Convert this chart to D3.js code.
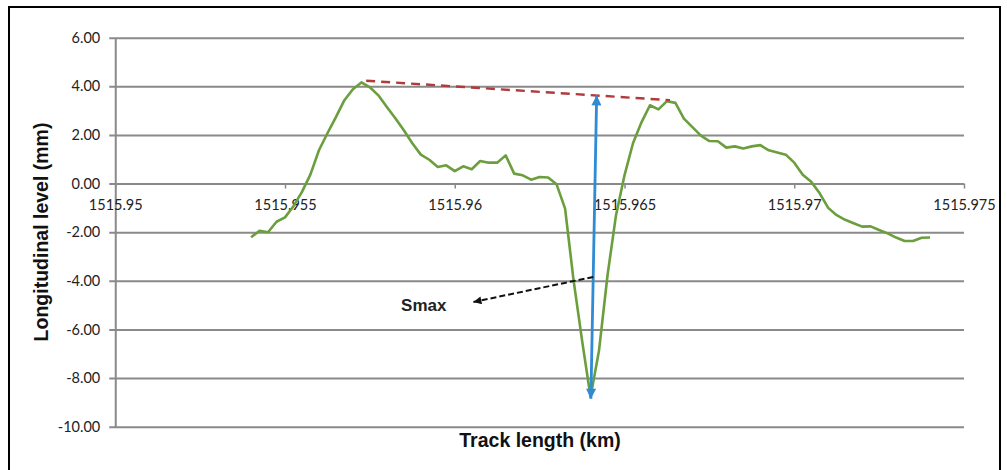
<!DOCTYPE html>
<html>
<head>
<meta charset="utf-8">
<script src="https://cdn.jsdelivr.net/npm/d3@7"></script>
<style>
  html, body { margin: 0; padding: 0; background: #fff; }
  svg { display: block; }
</style>
</head>
<body>
<svg id="chart" width="1007" height="470"></svg>
<script>
// Track chainage (km), sampled every 0.25 m
const xStart = 1515.954;
const xStep = 0.00025;

// Longitudinal level (mm) at each chainage sample
const levels = [
  -2.21, -1.94, -2.00, -1.57, -1.39, -0.93, -0.34, 0.38, 1.37, 2.07,
   2.73,  3.43,  3.88,  4.16,  3.96,  3.63,  3.15, 2.69, 2.19, 1.66,
   1.19,  0.98,  0.68,  0.75,  0.51,  0.71,  0.59, 0.93, 0.86, 0.86,
   1.16,  0.41,  0.34,  0.16,  0.27,  0.25, -0.03, -1.03, -3.98, -6.45,
  -8.78, -6.86, -3.77, -1.30,  0.34,  1.66,  2.52, 3.22, 3.05, 3.39,
   3.32,  2.67,  2.32,  1.97,  1.75,  1.74,  1.48, 1.53, 1.44, 1.53,
   1.58,  1.37,  1.28,  1.19,  0.86,  0.36,  0.07, -0.40, -1.00, -1.30,
  -1.49, -1.63, -1.77, -1.76, -1.91, -2.05, -2.22, -2.36, -2.36, -2.23,
  -2.22
];
const chainage = levels.map((_, i) => xStart + i * xStep);

// Axis ticks
const xTicks = [1515.95, 1515.955, 1515.96, 1515.965, 1515.97, 1515.975];
const xTickLabels = ["1515.95", "1515.955", "1515.96", "1515.965", "1515.97", "1515.975"];
const yTicks = [-10, -8, -6, -4, -2, 0, 2, 4, 6];

// Annotations: envelope over the two crests, the Smax span and its pointer
const envelopeLine = [[1515.95739, 4.23], [1515.96634, 3.43]];
const smaxSpan = [[1515.96418, 3.63], [1515.96401, -8.85]];
const smaxPointer = [[1515.96408, -3.84], [1515.96055, -4.87]];
const smaxLabel = { x: 1515.96055, y: -4.87, text: "Smax" };

const svg = d3.select("#chart");

// Outer frame
svg.append("rect")
  .attr("x", 9).attr("y", 7)
  .attr("width", 991).attr("height", 470)
  .attr("fill", "none").attr("stroke", "#000").attr("stroke-width", 2);

const x = d3.scaleLinear().domain([1515.95, 1515.975]).range([115.25, 964]);
const y = d3.scaleLinear().domain([-10, 6]).range([426.7, 37.7]);

const gridColor = "#8a8a8a";

// Y axis with horizontal gridlines (plain hyphen for negatives)
const yAxis = d3.axisLeft(y)
  .tickValues(yTicks)
  .tickFormat(d => d.toFixed(2))
  .tickSizeInner(6)
  .tickSizeOuter(0)
  .tickPadding(9);

const gy = svg.append("g")
  .attr("transform", `translate(${x.range()[0]},0)`)
  .call(yAxis);
gy.select(".domain").attr("stroke", gridColor).attr("stroke-width", 2);
gy.selectAll(".tick line")
  .attr("x1", -6)
  .attr("x2", x.range()[1] - x.range()[0])
  .attr("stroke", gridColor)
  .attr("stroke-width", 2);
gy.selectAll(".tick text")
  .attr("font-family", "Lato, 'Open Sans', sans-serif")
  .attr("font-size", 14.5)
  .attr("fill", "#222");

// X axis along the zero line
const xAxis = d3.axisBottom(x)
  .tickValues(xTicks)
  .tickFormat((d, i) => xTickLabels[i])
  .tickSizeInner(5)
  .tickSizeOuter(0);

const gx = svg.append("g")
  .attr("transform", `translate(0,${y(0)})`)
  .call(xAxis);
gx.select(".domain").attr("stroke", "none");
gx.selectAll(".tick line").attr("stroke", gridColor).attr("stroke-width", 1.5);
gx.selectAll(".tick text")
  .attr("y", 26).attr("dy", 0)
  .attr("font-family", "Lato, 'Open Sans', sans-serif")
  .attr("font-size", 14.5)
  .attr("fill", "#222");

// Axis titles
svg.append("text")
  .attr("transform", "translate(48,232) rotate(-90)")
  .attr("text-anchor", "middle")
  .attr("font-family", "'Liberation Sans', Arial, sans-serif")
  .attr("font-weight", "bold")
  .attr("font-size", 19.5)
  .attr("fill", "#111")
  .text("Longitudinal level (mm)");

svg.append("text")
  .attr("x", 540).attr("y", 447)
  .attr("text-anchor", "middle")
  .attr("font-family", "'Liberation Sans', Arial, sans-serif")
  .attr("font-weight", "bold")
  .attr("font-size", 19.5)
  .attr("fill", "#111")
  .text("Track length (km)");

// Arrowhead markers
const defs = svg.append("defs");
defs.append("marker")
  .attr("id", "blueHead")
  .attr("viewBox", "0 0 10 10")
  .attr("refX", 10).attr("refY", 5)
  .attr("markerUnits", "userSpaceOnUse")
  .attr("markerWidth", 11).attr("markerHeight", 10)
  .attr("orient", "auto-start-reverse")
  .append("path").attr("d", "M0,0 L10,5 L0,10 Z").attr("fill", "#2f8bd2");
defs.append("marker")
  .attr("id", "blackHead")
  .attr("viewBox", "0 0 10 10")
  .attr("refX", 10).attr("refY", 5)
  .attr("markerUnits", "userSpaceOnUse")
  .attr("markerWidth", 10).attr("markerHeight", 8)
  .attr("orient", "auto")
  .append("path").attr("d", "M0,0 L10,5 L0,10 Z").attr("fill", "#111");

const line = d3.line().x(d => x(d[0])).y(d => y(d[1]));

// Level profile
svg.append("path")
  .datum(chainage.map((c, i) => [c, levels[i]]))
  .attr("d", line)
  .attr("fill", "none")
  .attr("stroke", "#6b9e3d")
  .attr("stroke-width", 2.6)
  .attr("stroke-linejoin", "round");

// Envelope across the crests
svg.append("path")
  .datum(envelopeLine)
  .attr("d", line)
  .attr("fill", "none")
  .attr("stroke", "#b23a3a")
  .attr("stroke-width", 2.4)
  .attr("stroke-dasharray", "9,6");

// Smax double arrow
svg.append("path")
  .datum(smaxSpan)
  .attr("d", line)
  .attr("fill", "none")
  .attr("stroke", "#2f8bd2")
  .attr("stroke-width", 2.8)
  .attr("marker-start", "url(#blueHead)")
  .attr("marker-end", "url(#blueHead)");

// Pointer to the Smax label
svg.append("path")
  .datum(smaxPointer)
  .attr("d", line)
  .attr("fill", "none")
  .attr("stroke", "#111")
  .attr("stroke-width", 2)
  .attr("stroke-dasharray", "6,3")
  .attr("marker-end", "url(#blackHead)");

svg.append("text")
  .attr("x", x(smaxLabel.x) - 27)
  .attr("y", y(smaxLabel.y) + 9)
  .attr("text-anchor", "end")
  .attr("font-family", "'Liberation Sans', Arial, sans-serif")
  .attr("font-weight", "bold")
  .attr("font-size", 17)
  .attr("fill", "#222")
  .text(smaxLabel.text);
</script>
</body>
</html>
